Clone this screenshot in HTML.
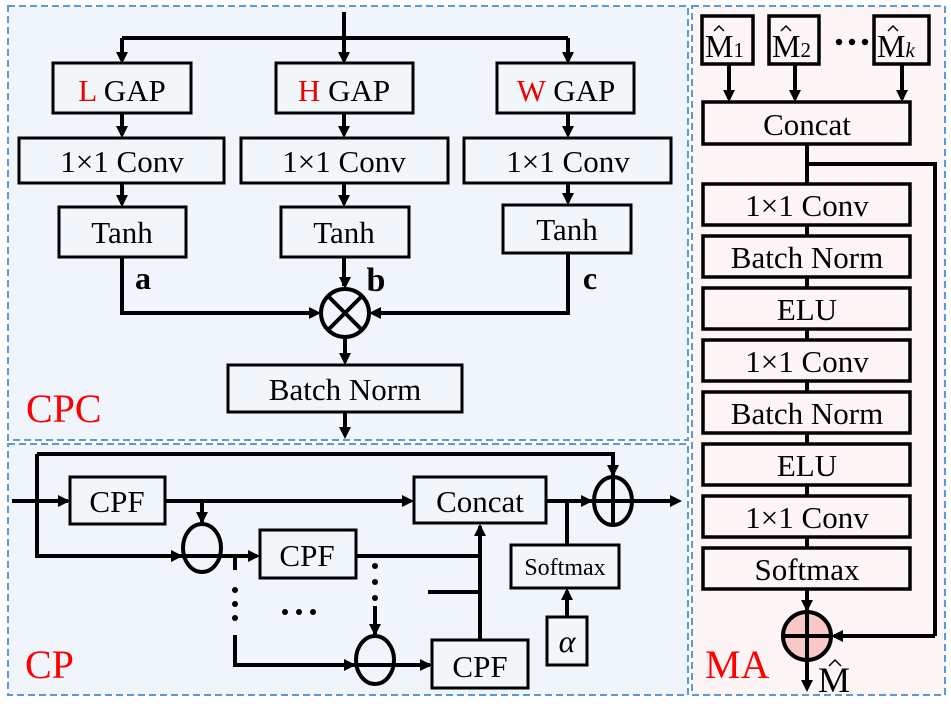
<!DOCTYPE html>
<html><head><meta charset="utf-8"><style>
html,body{margin:0;padding:0;background:#fff;}
svg{display:block;}
text{font-family:"Liberation Serif","DejaVu Serif",serif;}
</style></head><body>
<svg width="951" height="704" viewBox="0 0 951 704" xmlns="http://www.w3.org/2000/svg" font-family="Liberation Serif, serif">
<style>
.ln{stroke:#000;stroke-width:4;fill:none;}
.bx{stroke:#000;stroke-width:3;fill:#f1f6fb;}
.bp{stroke:#000;stroke-width:3.5;fill:#fdf5f5;}
.t{font-size:31px;text-anchor:middle;font-family:"Liberation Serif",serif;}
</style>
<!-- panels -->
<rect x="8" y="6" width="680" height="434" fill="#eff5fb" stroke="#5b9bd5" stroke-width="2" stroke-dasharray="7,4"/>
<rect x="8" y="444" width="680" height="251" fill="#eff5fb" stroke="#5b9bd5" stroke-width="2" stroke-dasharray="7,4"/>
<rect x="692" y="6" width="253" height="689" fill="#fdf5f5" stroke="#5b9bd5" stroke-width="2" stroke-dasharray="7,4"/>

<!-- CPC -->
<path class="ln" d="M344 12 V60 M122 38 H568 M122 38 V60 M568 38 V60"/>
<rect class="bx" x="53" y="63" width="138" height="50"/>
<rect class="bx" x="276" y="63" width="137" height="50"/>
<rect class="bx" x="497" y="63" width="137" height="50"/>
<text class="t" x="122" y="101"><tspan fill="#e00">L</tspan> GAP</text>
<text class="t" x="344" y="101"><tspan fill="#e00">H</tspan> GAP</text>
<text class="t" x="566" y="101"><tspan fill="#e00">W</tspan> GAP</text>
<path class="ln" d="M122 113 V135 M344 113 V135 M568 113 V135"/>
<rect class="bx" x="19" y="138" width="205" height="45"/>
<rect class="bx" x="241" y="138" width="207" height="45"/>
<rect class="bx" x="464" y="138" width="207" height="45"/>
<text class="t" x="122" y="172">1×1 Conv</text>
<text class="t" x="344" y="172">1×1 Conv</text>
<text class="t" x="568" y="172">1×1 Conv</text>
<path class="ln" d="M122 183 V204 M344 183 V204 M568 183 V202"/>
<rect class="bx" x="59" y="207" width="127" height="50"/>
<rect class="bx" x="281" y="207" width="128" height="50"/>
<rect class="bx" x="503" y="205" width="128" height="48"/>
<text class="t" x="122" y="243">Tanh</text>
<text class="t" x="344" y="243">Tanh</text>
<text class="t" x="567" y="240">Tanh</text>
<text x="143" y="289" style="font-size:32px;font-weight:bold;text-anchor:middle">a</text>
<text x="376" y="291" style="font-size:34px;font-weight:bold;text-anchor:middle">b</text>
<text x="590" y="289" style="font-size:32px;font-weight:bold;text-anchor:middle">c</text>
<path class="ln" d="M122 257 V313 H317 M344 257 V286 M568 253 V313 H373"/>
<circle cx="345" cy="313" r="24" fill="none" stroke="#000" stroke-width="4"/>
<path class="ln" d="M328 296 L362 330 M362 296 L328 330"/>
<path class="ln" d="M345 337 V362"/>
<rect class="bx" x="228" y="365" width="234" height="47"/>
<text class="t" x="345" y="400">Batch Norm</text>
<path class="ln" d="M345 412 V435"/>
<text x="26" y="422" style="font-size:40px;fill:#f00">CPC</text>

<!-- CP -->
<path class="ln" d="M37 454 H613 V476 M37 454 V556 H221 M221 556 H257"/>
<path class="ln" d="M12 501 H68"/>
<rect class="bx" x="70" y="477" width="95" height="47"/>
<text class="t" x="117" y="512">CPF</text>
<path class="ln" d="M165 501 H411 M202 501 V522"/>
<rect class="bx" x="414" y="477" width="132" height="46"/>
<text class="t" x="480" y="512">Concat</text>
<ellipse cx="202" cy="548" rx="19" ry="24" fill="none" stroke="#000" stroke-width="4"/>
<rect class="bx" x="260" y="530" width="96" height="48"/>
<text class="t" x="307" y="566">CPF</text>
<path class="ln" d="M356 556 H480 M428 592 H480 M480 640 V526"/>
<path class="ln" d="M235 556 V570 M235 635 V665 H430"/>
<g fill="#000">
<circle cx="235" cy="590" r="3"/><circle cx="235" cy="604" r="3"/><circle cx="235" cy="618" r="3"/>
<circle cx="375" cy="566" r="3"/><circle cx="375" cy="582" r="3"/><circle cx="375" cy="598" r="3"/>
<circle cx="285" cy="612" r="3"/><circle cx="299" cy="612" r="3"/><circle cx="313" cy="612" r="3"/>
</g>
<path class="ln" d="M375 606 V638"/>
<ellipse cx="375" cy="660" rx="19" ry="24" fill="none" stroke="#000" stroke-width="4"/>
<rect class="bx" x="432" y="640" width="96" height="48"/>
<text class="t" x="480" y="677">CPF</text>
<path class="ln" d="M546 501 H592 M567 501 V545"/>
<rect class="bx" x="511" y="545" width="108" height="43"/>
<text x="565" y="575" style="font-size:24px;text-anchor:middle">Softmax</text>
<path class="ln" d="M567 617 V591"/>
<rect class="bx" x="547" y="617" width="40" height="48"/>
<text x="567" y="652" style="font-size:32px;font-style:italic;text-anchor:middle">α</text>
<ellipse cx="613" cy="501" rx="19" ry="24" fill="none" stroke="#000" stroke-width="4"/>
<path class="ln" d="M594 501 H678 M613 477 V525"/>
<text x="25" y="678" style="font-size:40px;fill:#f00">CP</text>

<!-- MA -->
<rect class="bp" x="702" y="16" width="51" height="48"/>
<rect class="bp" x="769" y="16" width="50" height="48"/>
<rect class="bp" x="874" y="16" width="55" height="48"/>
<text x="705" y="57" style="font-size:32px">M<tspan font-size="21">1</tspan></text>
<text x="772" y="57" style="font-size:32px">M<tspan font-size="21">2</tspan></text>
<text x="877" y="57" style="font-size:32px">M<tspan font-size="21" font-style="italic">k</tspan></text>
<path d="M714 31 L719 26 L724 31 M781 31 L786 26 L791 31 M888 31 L893 26 L898 31" stroke="#000" stroke-width="1.5" fill="none"/>
<g fill="#000"><circle cx="839" cy="42" r="3.2"/><circle cx="852" cy="42" r="3.2"/><circle cx="865" cy="42" r="3.2"/></g>
<path class="ln" d="M729 64 V99 M795 64 V99 M902 64 V99"/>
<rect class="bp" x="703" y="102" width="207" height="42"/>
<text class="t" x="807" y="135">Concat</text>
<path class="ln" d="M807 144 V630 M807 164 H935 V636 M935 636 H834 M807 660 V688"/>
<g>
<rect class="bp" x="703" y="184" width="207" height="41"/>
<rect class="bp" x="703" y="236" width="207" height="41"/>
<rect class="bp" x="703" y="288" width="207" height="41"/>
<rect class="bp" x="703" y="340" width="207" height="41"/>
<rect class="bp" x="703" y="392" width="207" height="41"/>
<rect class="bp" x="703" y="444" width="207" height="41"/>
<rect class="bp" x="703" y="496" width="207" height="41"/>
<rect class="bp" x="703" y="548" width="207" height="41"/>
</g>
<text class="t" x="807" y="216">1×1 Conv</text>
<text class="t" x="807" y="268">Batch Norm</text>
<text class="t" x="807" y="320">ELU</text>
<text class="t" x="807" y="372">1×1 Conv</text>
<text class="t" x="807" y="424">Batch Norm</text>
<text class="t" x="807" y="476">ELU</text>
<text class="t" x="807" y="528">1×1 Conv</text>
<text class="t" x="807" y="580">Softmax</text>
<circle cx="807" cy="636" r="24" fill="#f9c8c8" stroke="#000" stroke-width="4"/>
<path class="ln" d="M807 612 V660 M783 636 H831"/>
<text x="705" y="678" style="font-size:40px;fill:#f00">MA</text>
<text x="818" y="692" style="font-size:36px">M</text>
<path d="M829 666 L835 660 L841 666" stroke="#000" stroke-width="1.5" fill="none"/>

<!-- arrowheads -->
<g fill="#000">
<polygon points="116,52 128,52 122,64"/>
<polygon points="338,52 350,52 344,64"/>
<polygon points="562,52 574,52 568,64"/>
<polygon points="116,126 128,126 122,138"/>
<polygon points="338,126 350,126 344,138"/>
<polygon points="562,126 574,126 568,138"/>
<polygon points="116,195 128,195 122,207"/>
<polygon points="338,195 350,195 344,207"/>
<polygon points="562,193 574,193 568,205"/>
<polygon points="339,277 351,277 345,289"/>
<polygon points="309,307 309,319 321,313"/>
<polygon points="381,307 381,319 369,313"/>
<polygon points="339,353 351,353 345,365"/>
<polygon points="339,427 351,427 345,439"/>
<polygon points="607,465 619,465 613,477"/>
<polygon points="58,495 58,507 70,501"/>
<polygon points="402,495 402,507 414,501"/>
<polygon points="196,512 208,512 202,524"/>
<polygon points="171,550 171,562 183,556"/>
<polygon points="248,550 248,562 260,556"/>
<polygon points="474,536 486,536 480,524"/>
<polygon points="369,624 381,624 375,636"/>
<polygon points="344,659 344,671 356,665"/>
<polygon points="420,659 420,671 432,665"/>
<polygon points="581,495 581,507 593,501"/>
<polygon points="670,495 670,507 682,501"/>
<polygon points="561,600 573,600 567,588"/>
<polygon points="723,90 735,90 729,102"/>
<polygon points="789,90 801,90 795,102"/>
<polygon points="896,90 908,90 902,102"/>
<polygon points="801,600 813,600 807,612"/>
<polygon points="843,630 843,642 831,636"/>
<polygon points="801,680 813,680 807,692"/>
</g>
</svg>
</body></html>
